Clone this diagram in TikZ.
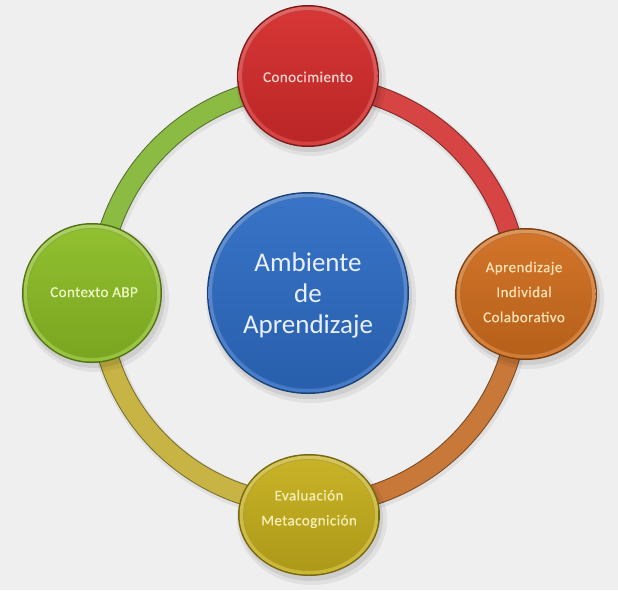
\documentclass[tikz,border=0pt]{standalone}
\usepackage{fontspec}
\setmainfont{Carlito}
\newfontfamily\labelfont{Carlito}[LetterSpace=3, FakeBold=0.5]
\definecolor{bgc}{HTML}{EFEFEF}
\definecolor{cred}{HTML}{D42B2B}
\definecolor{corange}{HTML}{CF6D1E}
\definecolor{cgreen}{HTML}{8BBC25}
\definecolor{cyellow}{HTML}{C5AE1C}
\definecolor{cblue}{HTML}{2E6CC4}
\definecolor{rred}{HTML}{D64444}
\definecolor{rorange}{HTML}{C87838}
\definecolor{ryellow}{HTML}{C8B444}
\definecolor{rgreen}{HTML}{8CBB44}
\definecolor{tred}{HTML}{F8D2CC}
\definecolor{torange}{HTML}{FDE2B4}
\definecolor{tgreen}{HTML}{EEF8C4}
\definecolor{tyellow}{HTML}{F6EEB4}
\definecolor{tblue}{HTML}{E8F0FF}
\newcommand\mybutton[5]{%
  \fill[black,opacity=0.06] (#1+3,#2+5) ellipse [x radius=#3+4, y radius=#4+4];
  \fill[black,opacity=0.08] (#1+2,#2+4) ellipse [x radius=#3+1, y radius=#4+1];
  \fill[#5!60!black] (#1,#2) ellipse [x radius=#3, y radius=#4];
  \shade[top color=#5!72!white, bottom color=#5!90!white] (#1,#2) ellipse [x radius=#3-1.5, y radius=#4-1.5];
  \fill[#5!75!black,opacity=0.5] (#1,#2) ellipse [x radius=#3-5, y radius=#4-5];
  \shade[top color=#5!95!white, bottom color=#5!88!black] (#1,#2) ellipse [x radius=#3-6, y radius=#4-6];
}
\tikzset{
  ringseg/.style={line width=21pt, line cap=butt},
  smalltext/.style={font=\labelfont\fontsize{15}{25}\selectfont, align=center, inner sep=0pt},
  bigtext/.style={font=\fontsize{27}{31}\selectfont, align=center, inner sep=0pt},
}
\begin{document}
\begin{tikzpicture}[x=1pt,y=-1pt]
\useasboundingbox (0,0) rectangle (618,590);
\fill[bgc] (0,0) rectangle (618,590);
% ring
\coordinate (rc) at (309,295);
\foreach \a/\b/\c in {-90/0/rred, 0/90/rorange, 90/180/ryellow, 180/270/rgreen}{
  \draw[ringseg, black, opacity=0.06, line width=25pt] ([shift={(1,2)}]rc) ++(\a:210) arc[start angle=\a, end angle=\b, radius=210];
  \draw[ringseg, \c!60!black] (rc) ++(\a:210) arc[start angle=\a, end angle=\b, radius=210];
  \draw[ringseg, \c, line width=19pt] (rc) ++(\a:210) arc[start angle=\a, end angle=\b, radius=210];
}
% buttons
\mybutton{308}{76}{71}{71}{cred}
\mybutton{526}{294}{71}{66}{corange}
\mybutton{92}{293}{70}{70}{cgreen}
\mybutton{309}{515}{71}{61}{cyellow}
\mybutton{308}{293}{101}{101}{cblue}
% texts
\node[smalltext, text=tred, anchor=base] (t1) at (308,82) {Conocimiento};
\node[smalltext, text=tgreen, anchor=base] (t2) at (94,297) {Contexto ABP};
\node[smalltext, text=torange] (t3) at (524,292) {Aprendizaje\\Individal\\Colaborativo};
\node[smalltext, text=tyellow] (t4) at (309,509) {Evaluación\\Metacognición};
\node[bigtext, text=tblue] (t5) at (308,295) {Ambiente\\de\\Aprendizaje};
\end{tikzpicture}
\end{document}
